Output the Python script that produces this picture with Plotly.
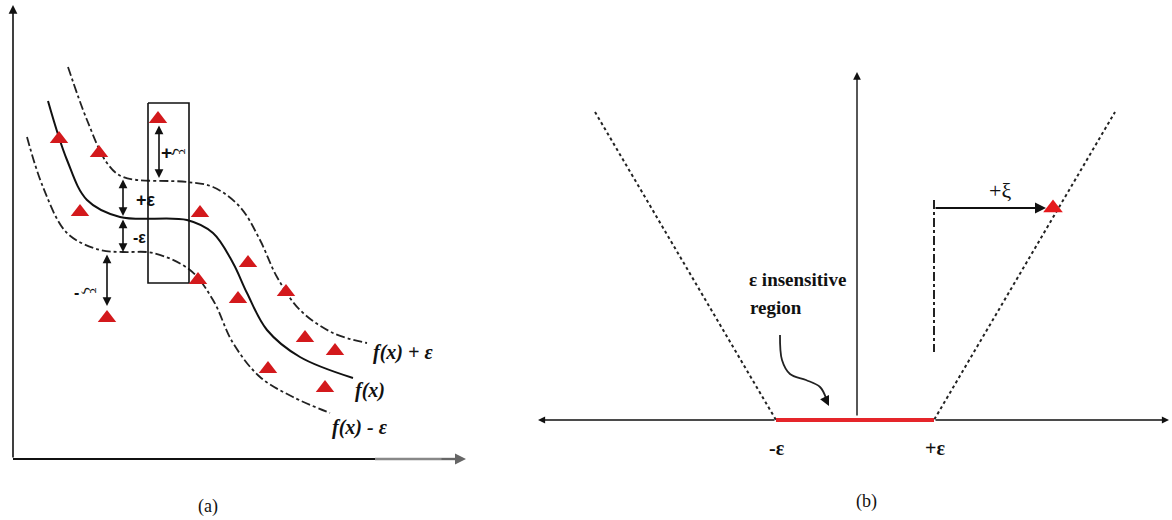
import plotly.graph_objects as go

# ---- panel (a): regression tube ----
fx_x = [48, 67, 87, 120, 187, 213, 233, 247, 267, 300, 353]
fx_y = [101, 160, 200, 217, 220, 233, 263, 293, 330, 357, 378]

upper_x = [68, 87, 107, 123, 187, 213, 240, 260, 277, 300, 333, 367]
upper_y = [67, 120, 163, 177, 182, 187, 207, 240, 277, 310, 333, 343]

lower_x = [27, 43, 67, 100, 123, 153, 190, 213, 233, 260, 293, 330]
lower_y = [137, 187, 233, 250, 252, 253, 270, 300, 343, 377, 397, 413]

pts_x = [59, 99, 80, 158, 200, 248, 198, 286, 238, 107, 305, 335, 268, 325]
pts_y = [139, 153, 212, 119, 213, 263, 280, 292, 299, 318, 338, 351, 369, 388]

# ---- panel (b): epsilon-insensitive loss ----
loss_x = [595, 776, 934, 1115]
loss_y = [112, 420, 420, 112]
eps_x = [776, 934]
slack_pt = (1053, 208)

fig = go.Figure()

# panel (a) curves
fig.add_trace(go.Scatter(x=upper_x, y=upper_y, mode="lines", line_shape="spline",
                         line=dict(color="#222", width=1.8, dash="dashdot")))
fig.add_trace(go.Scatter(x=lower_x, y=lower_y, mode="lines", line_shape="spline",
                         line=dict(color="#222", width=1.8, dash="dashdot")))
fig.add_trace(go.Scatter(x=fx_x, y=fx_y, mode="lines", line_shape="spline",
                         line=dict(color="#111", width=2)))
# box around the support vector
fig.add_trace(go.Scatter(x=[148, 189, 189, 148, 148], y=[103, 103, 283, 283, 103], mode="lines",
                         line=dict(color="#111", width=1.6)))
fig.add_trace(go.Scatter(x=pts_x, y=pts_y, mode="markers",
                         marker=dict(symbol="triangle-up", size=16, color="#d3191c")))
# axes of (a)
fig.add_trace(go.Scatter(x=[13, 375], y=[459, 459], mode="lines", line=dict(color="#111", width=2)))
fig.add_trace(go.Scatter(x=[375, 458], y=[459, 459], mode="lines", line=dict(color="#888", width=2.5)))

# panel (b)
fig.add_trace(go.Scatter(x=loss_x, y=loss_y, mode="lines",
                         line=dict(color="#222", width=2, dash="dot")))
fig.add_trace(go.Scatter(x=[934, 934], y=[200, 352], mode="lines",
                         line=dict(color="#222", width=2, dash="dashdot")))
fig.add_trace(go.Scatter(x=[780, 782, 790, 806, 820, 826], y=[335, 360, 374, 380, 387, 398],
                         mode="lines", line_shape="spline", line=dict(color="#222", width=1.8)))
fig.add_trace(go.Scatter(x=eps_x, y=[420, 420], mode="lines", line=dict(color="#e5252a", width=4)))
fig.add_trace(go.Scatter(x=[slack_pt[0]], y=[slack_pt[1]], mode="markers",
                         marker=dict(symbol="triangle-up", size=17, color="#e5191c")))


def arrow(x0, y0, x1, y1, both=False, color="#111", width=1.6):
    fig.add_annotation(x=x1, y=y1, ax=x0, ay=y0, xref="x", yref="y", axref="x", ayref="y",
                       text="", showarrow=True, arrowhead=2, arrowsize=1.1, arrowwidth=width,
                       arrowcolor=color, arrowside="end+start" if both else "end",
                       startarrowhead=2, startarrowsize=1.1)


# axis arrows (kept clear of the red band, annotations sit above traces)
arrow(13, 459, 13, 5)
arrow(440, 459, 466, 459, color="#666", width=2)
arrow(857, 417, 857, 72, width=1.4)
arrow(776, 420, 538, 420, width=1.3)
arrow(934, 420, 1169, 420, width=1.3)
# tube width / slack arrows in (a)
arrow(159, 124, 159, 178, both=True)
arrow(123, 178, 123, 216, both=True)
arrow(123, 218, 123, 252, both=True)
arrow(107, 253, 107, 306, both=True)
# slack arrow in (b)
arrow(934, 208, 1046, 208, width=2)
arrow(824, 396, 829, 406, width=1.8)

serif = "Liberation Serif, Times New Roman, serif"
sans = "Liberation Sans, Arial, sans-serif"


def label(x, y, s, size=16, angle=0, family=serif, color="#111"):
    fig.add_annotation(x=x, y=y, xref="x", yref="y", text=s, showarrow=False, textangle=angle,
                       font=dict(family=family, size=size, color=color))


label(166, 152, "<b>+</b>", 19, family=sans)
label(179, 151, "ξ", 16, angle=90)
label(146, 200, "<b>+ε</b>", 18, family=sans)
label(139, 237, "<b>-ε</b>", 16, family=sans)
label(76, 292, "<b>-</b>", 16, family=sans)
label(90, 290, "ξ", 16, angle=90)
label(403, 352, "<b><i>f(x) + ε</i></b>", 20)
label(370, 390, "<b><i>f(x)</i></b>", 20)
label(360, 427, "<b><i>f(x) - ε</i></b>", 20)
label(208, 506, "(a)", 18)

label(1000, 190, "+ξ", 22)
label(797, 279, "<b>ε insensitive</b>", 19)
label(776, 307, "<b>region</b>", 19)
label(777, 448, "<b>-ε</b>", 20)
label(935, 448, "<b>+ε</b>", 20)
label(866, 501, "(b)", 18)

fig.update_layout(width=1172, height=520, margin=dict(l=0, r=0, t=0, b=0),
                  paper_bgcolor="white", plot_bgcolor="white", showlegend=False)
fig.update_xaxes(range=[0, 1172], visible=False)
fig.update_yaxes(range=[520, 0], visible=False)

fig.write_html("out.html", config={"displayModeBar": False},
               post_script="document.body.style.margin='0';document.body.style.overflow='hidden';")
